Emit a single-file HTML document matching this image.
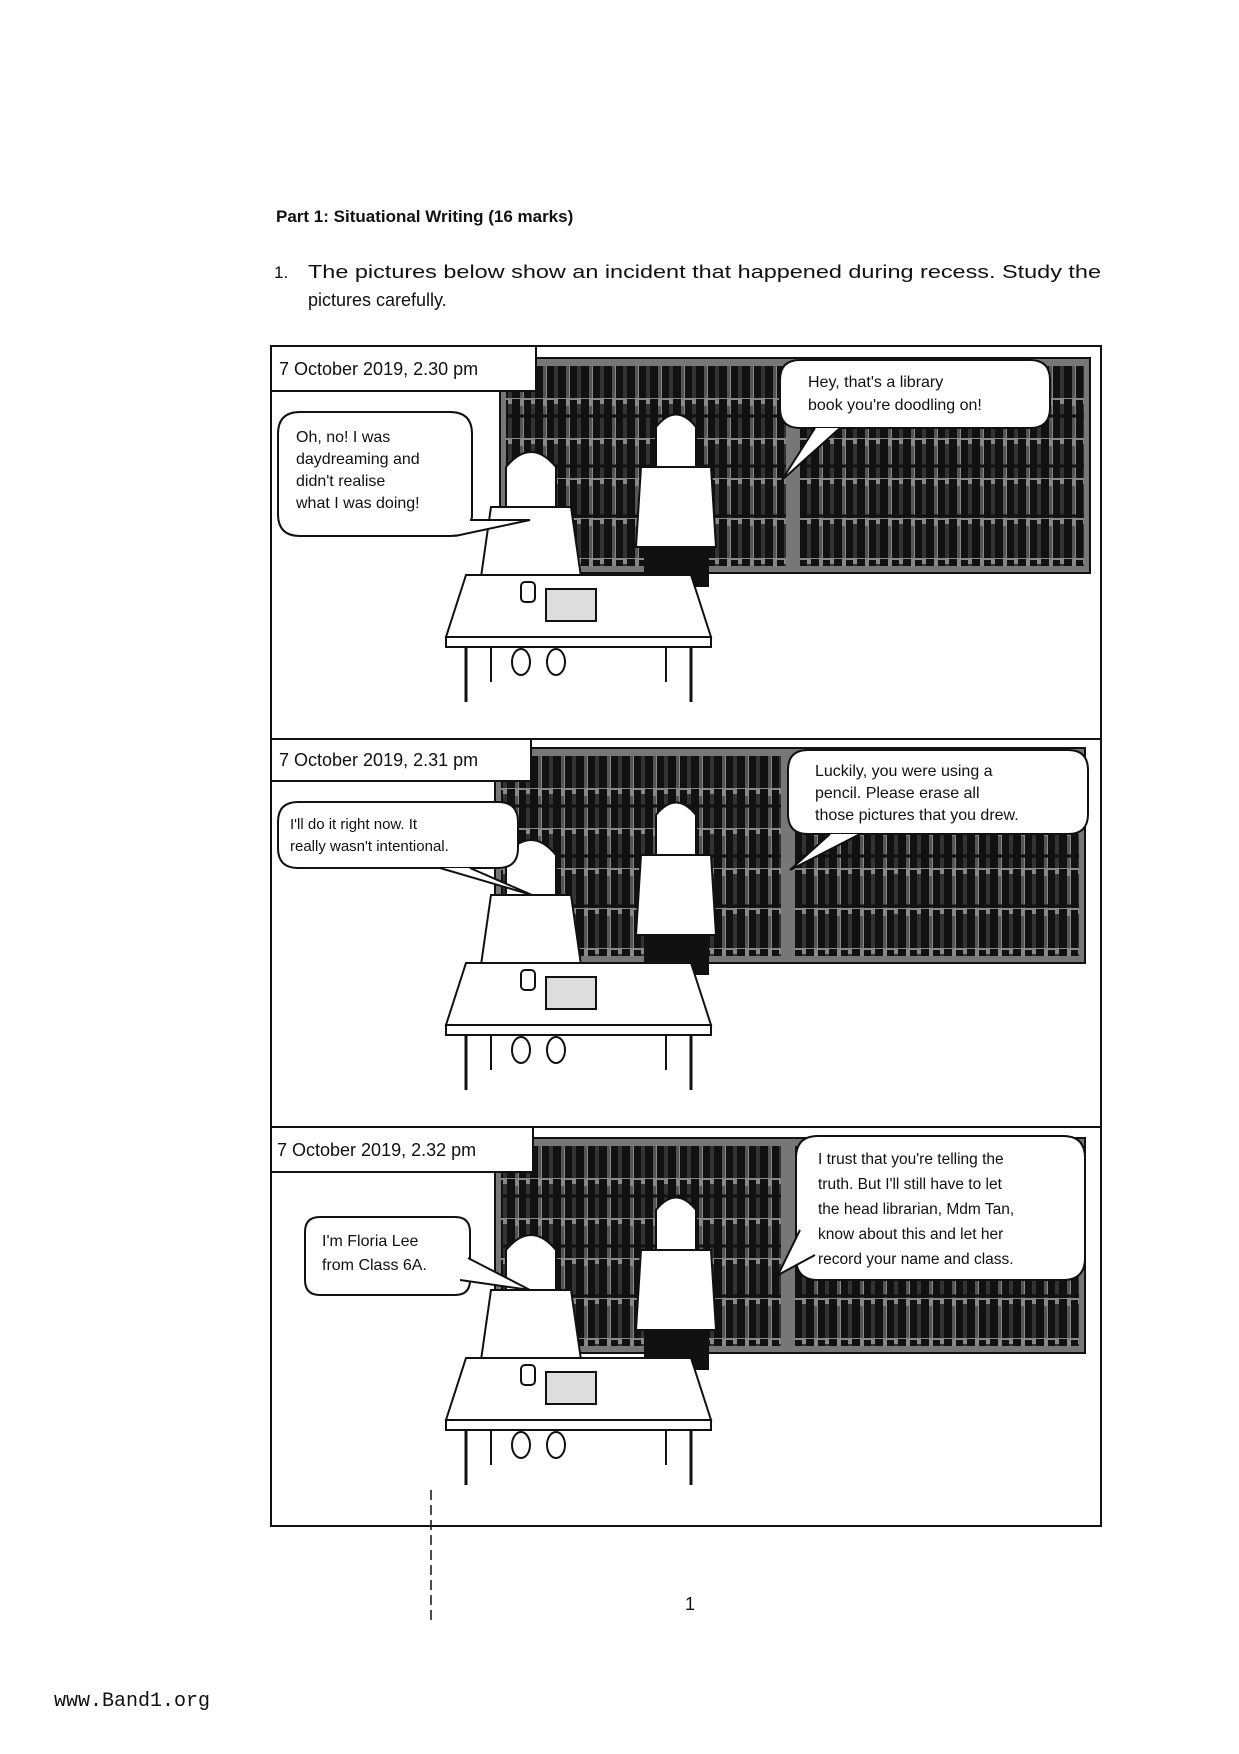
<!DOCTYPE html>
<html><head><meta charset="utf-8"><style>
body{margin:0;background:#fff}
svg{display:block}
text{font-family:"Liberation Sans",sans-serif;fill:#111}
</style></head><body>
<svg width="1239" height="1754" viewBox="0 0 1239 1754" xmlns="http://www.w3.org/2000/svg">
<defs>
<pattern id="books" width="23" height="40" patternUnits="userSpaceOnUse">
<rect width="23" height="40" fill="#888"/>
<rect x="1" y="2" width="7" height="38" fill="#111"/>
<rect x="8" y="6" width="4" height="34" fill="#333"/>
<rect x="12" y="1" width="8" height="39" fill="#111"/>
<rect x="20" y="8" width="3" height="32" fill="#555"/>
</pattern>
<g id="shelf">
<rect x="0" y="0" width="590" height="215" fill="#777"/>
<rect x="6" y="8" width="280" height="200" fill="url(#books)"/>
<rect x="300" y="8" width="284" height="200" fill="url(#books)"/>
<g stroke="#111" stroke-width="3">
<line x1="6" y1="58" x2="286" y2="58"/><line x1="6" y1="108" x2="286" y2="108"/><line x1="6" y1="158" x2="286" y2="158"/>
<line x1="300" y1="58" x2="584" y2="58"/><line x1="300" y1="108" x2="584" y2="108"/><line x1="300" y1="158" x2="584" y2="158"/>
</g>
<rect x="0" y="0" width="590" height="215" fill="none" stroke="#111" stroke-width="2"/>
</g>
<g id="scene">
<path d="M60 110 q25-30 50 0 v40 h-50z" fill="#fff" stroke="#111" stroke-width="2"/>
<path d="M45 150 h80 l10 70 h-100z" fill="#fff" stroke="#111" stroke-width="2"/>
<path d="M210 70 q20-25 40 0 v40 h-40z" fill="#fff" stroke="#111" stroke-width="2"/>
<path d="M195 110 h70 l5 80 h-80z" fill="#fff" stroke="#111" stroke-width="2"/>
<rect x="198" y="190" width="65" height="40" fill="#111"/>
<line x1="215" y1="230" x2="220" y2="285" stroke="#111" stroke-width="2"/>
<line x1="245" y1="230" x2="240" y2="285" stroke="#111" stroke-width="2"/>
<path d="M20 218 L245 218 L265 280 L0 280 Z" fill="#fff" stroke="#111" stroke-width="2"/>
<rect x="0" y="280" width="265" height="10" fill="#fff" stroke="#111" stroke-width="2"/>
<line x1="20" y1="290" x2="20" y2="345" stroke="#111" stroke-width="3"/>
<line x1="45" y1="290" x2="45" y2="325" stroke="#111" stroke-width="2"/>
<line x1="220" y1="290" x2="220" y2="325" stroke="#111" stroke-width="2"/>
<line x1="245" y1="290" x2="245" y2="345" stroke="#111" stroke-width="3"/>
<rect x="100" y="232" width="50" height="32" fill="#ddd" stroke="#111" stroke-width="2"/>
<rect x="75" y="225" width="14" height="20" rx="4" fill="#fff" stroke="#111" stroke-width="2"/>
<ellipse cx="75" cy="305" rx="9" ry="13" fill="#fff" stroke="#111" stroke-width="2"/>
<ellipse cx="110" cy="305" rx="9" ry="13" fill="#fff" stroke="#111" stroke-width="2"/>
</g>
</defs>

<text x="276" y="222" font-size="17" font-weight="bold">Part 1: Situational Writing (16 marks)</text>
<text x="274" y="278" font-size="17">1.</text>
<text x="308" y="278" font-size="18" textLength="793" lengthAdjust="spacingAndGlyphs">The pictures below show an incident that happened during recess. Study the</text>
<text x="308" y="306" font-size="18">pictures carefully.</text>

<rect x="271" y="346" width="830" height="1180" fill="none" stroke="#111" stroke-width="2"/>
<line x1="271" y1="739" x2="1101" y2="739" stroke="#111" stroke-width="2"/>
<line x1="271" y1="1127" x2="1101" y2="1127" stroke="#111" stroke-width="2"/>

<use href="#shelf" x="500" y="358"/>
<use href="#scene" x="446" y="357"/>
<rect x="271" y="346" width="265" height="45" fill="#fff" stroke="#111" stroke-width="2"/>
<text x="279" y="375" font-size="18">7 October 2019, 2.30 pm</text>
<path d="M300 412 h150 q22 0 22 22 v80 q0 22-22 22 h-150 q-22 0-22-22 v-80 q0-22 22-22z" fill="#fff" stroke="#111" stroke-width="2"/>
<path d="M455 536 L530 520 L470 520" fill="#fff" stroke="#111" stroke-width="2"/>
<text font-size="16"><tspan x="296" y="442">Oh, no! I was</tspan><tspan x="296" y="464">daydreaming and</tspan><tspan x="296" y="486">didn't realise</tspan><tspan x="296" y="508">what I was doing!</tspan></text>
<path d="M800 360 h230 q20 0 20 20 v28 q0 20-20 20 h-230 q-20 0-20-20 v-28 q0-20 20-20z" fill="#fff" stroke="#111" stroke-width="2"/>
<path d="M815 428 L782 480 L840 428" fill="#fff" stroke="#111" stroke-width="2"/>
<text font-size="16"><tspan x="808" y="387">Hey, that's a library</tspan><tspan x="808" y="410">book you're doodling on!</tspan></text>

<use href="#shelf" x="495" y="748"/>
<use href="#scene" x="446" y="745"/>
<rect x="271" y="739" width="260" height="42" fill="#fff" stroke="#111" stroke-width="2"/>
<text x="279" y="766" font-size="18">7 October 2019, 2.31 pm</text>
<path d="M298 802 h200 q20 0 20 20 v26 q0 20-20 20 h-200 q-20 0-20-20 v-26 q0-20 20-20z" fill="#fff" stroke="#111" stroke-width="2"/>
<path d="M440 868 L532 895 L470 868" fill="#fff" stroke="#111" stroke-width="2"/>
<text font-size="15"><tspan x="290" y="829">I'll do it right now. It</tspan><tspan x="290" y="851">really wasn't intentional.</tspan></text>
<path d="M808 750 h260 q20 0 20 20 v44 q0 20-20 20 h-260 q-20 0-20-20 v-44 q0-20 20-20z" fill="#fff" stroke="#111" stroke-width="2"/>
<path d="M830 834 L790 870 L860 834" fill="#fff" stroke="#111" stroke-width="2"/>
<text font-size="16"><tspan x="815" y="776">Luckily, you were using a</tspan><tspan x="815" y="798">pencil. Please erase all</tspan><tspan x="815" y="820">those pictures that you drew.</tspan></text>

<use href="#shelf" x="495" y="1138"/>
<use href="#scene" x="446" y="1140"/>
<rect x="271" y="1127" width="262" height="45" fill="#fff" stroke="#111" stroke-width="2"/>
<text x="277" y="1156" font-size="18">7 October 2019, 2.32 pm</text>
<path d="M320 1217 h135 q15 0 15 15 v48 q0 15-15 15 h-135 q-15 0-15-15 v-48 q0-15 15-15z" fill="#fff" stroke="#111" stroke-width="2"/>
<path d="M460 1280 L530 1290 L468 1258" fill="#fff" stroke="#111" stroke-width="2"/>
<text font-size="16"><tspan x="322" y="1246">I'm Floria Lee</tspan><tspan x="322" y="1270">from Class 6A.</tspan></text>
<path d="M818 1136 h245 q22 0 22 22 v100 q0 22-22 22 h-245 q-22 0-22-22 v-100 q0-22 22-22z" fill="#fff" stroke="#111" stroke-width="2"/>
<path d="M800 1230 L778 1275 L815 1255" fill="#fff" stroke="#111" stroke-width="2"/>
<text font-size="15.5"><tspan x="818" y="1164">I trust that you're telling the</tspan><tspan x="818" y="1189">truth. But I'll still have to let</tspan><tspan x="818" y="1214">the head librarian, Mdm Tan,</tspan><tspan x="818" y="1239">know about this and let her</tspan><tspan x="818" y="1264">record your name and class.</tspan></text>

<line x1="431" y1="1490" x2="431" y2="1620" stroke="#111" stroke-width="1.5" stroke-dasharray="10,5"/>
<text x="685" y="1610" font-size="18">1</text>
<text x="54" y="1706" font-size="20" style="font-family:'Liberation Mono',monospace">www.Band1.org</text>
</svg>
</body></html>
